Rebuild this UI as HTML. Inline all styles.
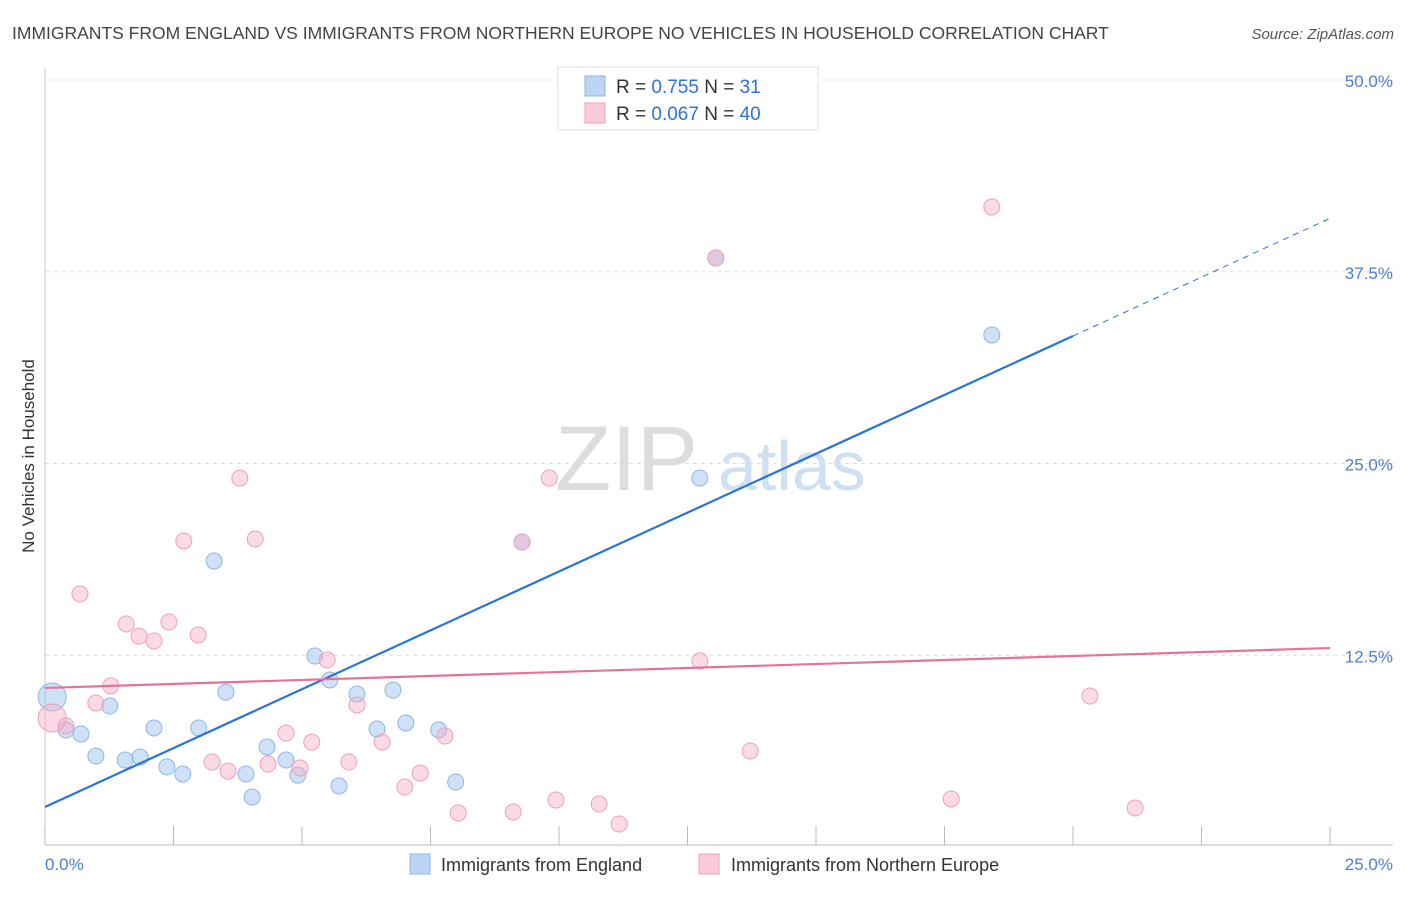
<!DOCTYPE html>
<html><head><meta charset="utf-8">
<style>
body{margin:0;background:#fff;font-family:"Liberation Sans",sans-serif;}
svg text{font-family:"Liberation Sans",sans-serif;}
</style></head>
<body>
<svg id="chart" width="1406" height="892" viewBox="0 0 1406 892" xmlns="http://www.w3.org/2000/svg">
<text x="12" y="39" font-size="17.5" fill="#444">IMMIGRANTS FROM ENGLAND VS IMMIGRANTS FROM NORTHERN EUROPE NO VEHICLES IN HOUSEHOLD CORRELATION CHART</text>
<text x="1394" y="39" font-size="15" fill="#555" font-style="italic" text-anchor="end">Source: ZipAtlas.com</text>
<g>
<text x="555" y="490" font-size="92" fill="#ddd" font-family="Liberation Serif,serif">ZIP</text>
<text x="718" y="490" font-size="70" fill="#cfe0f3">atlas</text>
</g>
<g id="grid"></g>
<g id="axes"></g>
<g id="pts"></g>
<g id="lines"></g>
<text transform="translate(34,456) rotate(-90)" font-size="17" fill="#333" text-anchor="middle">No Vehicles in Household</text>
<text x="45" y="870" font-size="17" fill="#4a7fd4">0.0%</text>
<text x="1393" y="870" font-size="17" fill="#4a7fd4" text-anchor="end">25.0%</text>
<g>
<rect x="558" y="67" width="260" height="63" fill="#fff" stroke="#ddd"/>
<rect x="585" y="76" width="20" height="20" fill="#bcd5f5" stroke="#8fb5e8"/>
<rect x="585" y="103" width="20" height="20" fill="#f9cbd9" stroke="#f0a0b8"/>
<text x="616" y="93" font-size="19" fill="#333">R = <tspan fill="#2a73d9">0.755</tspan>   N = <tspan fill="#2a73d9"> 31</tspan></text>
<text x="616" y="120" font-size="19" fill="#333">R = <tspan fill="#2a73d9">0.067</tspan>   N = <tspan fill="#2a73d9">40</tspan></text>
</g>
<g>
<rect x="410" y="854" width="20" height="20" fill="#bcd5f5" stroke="#8fb5e8"/>
<text x="441" y="871" font-size="18" fill="#333">Immigrants from England</text>
<rect x="699" y="854" width="20" height="20" fill="#f9cbd9" stroke="#f0a0b8"/>
<text x="731" y="871" font-size="18" fill="#333">Immigrants from Northern Europe</text>
</g>
</svg>
<script>
const englandX=[0.14,0.41,0.70,0.99,1.26,1.56,1.85,2.12,2.37,2.68,2.99,3.29,3.52,3.91,4.03,4.32,4.69,4.92,5.25,5.54,5.72,6.07,6.46,6.77,7.02,7.66,7.99,9.28,12.74,13.05,18.42];
const englandY=[9.78,7.63,7.37,5.93,9.19,5.67,5.87,7.76,5.22,4.76,7.76,18.64,10.10,4.76,3.26,6.52,5.67,4.69,12.45,10.89,3.98,9.97,7.69,10.23,8.08,7.63,4.24,19.88,24.05,38.40,33.38];
const northX=[0.14,0.41,0.68,0.99,1.28,1.58,1.83,2.12,2.41,2.70,2.98,3.25,3.56,3.79,4.09,4.34,4.69,4.96,5.19,5.49,6.07,5.91,6.56,7.00,7.30,7.78,8.04,9.11,9.81,9.94,9.28,10.78,11.17,12.74,13.05,13.72,17.63,18.42,20.33,21.21];
const northY=[8.41,7.89,16.49,9.39,10.50,14.54,13.75,13.43,14.67,19.95,13.82,5.54,4.95,24.05,20.08,5.41,7.43,5.15,6.84,12.19,9.26,5.54,6.84,3.91,4.82,7.24,2.22,2.28,24.05,3.06,19.88,2.80,1.50,12.13,38.40,6.26,3.13,41.72,9.84,2.54];
const yTicks=[12.5,25.0,37.5,50.0];
const englandFit=[2.61,1.535];
const northFit=[10.37,0.104];
const NS="http://www.w3.org/2000/svg";
const xs=v=>45+v*51.4;
const ys=v=>847-v*15.34;
function mk(tag,attrs,parent){const e=document.createElementNS(NS,tag);for(const k in attrs)e.setAttribute(k,attrs[k]);document.getElementById(parent).appendChild(e);return e;}
yTicks.forEach(t=>{
 const g=mk('line',{x1:45,x2:1393,y1:ys(t),y2:ys(t),stroke:'#ddd','stroke-dasharray':'4,4'},'grid');
 
 
 const l=mk('text',{x:1393,y:ys(t)+7,'font-size':17,fill:'#4a7fd4','text-anchor':'end'},'grid');
 l.textContent=t.toFixed(1)+'%';
 
 
});
const ax=mk('line',{x1:45,x2:1393,y1:845,y2:845,stroke:'#bbb'},'axes');


const ay=mk('line',{x1:45,x2:45,y1:68,y2:845,stroke:'#ccc'},'axes');


for(let i=0;i<=10;i++){
 const t=mk('line',{x1:xs(i*2.5),x2:xs(i*2.5),y1:826,y2:845,stroke:'#bbb'},'axes');
 
 
}
function pts(X,Y,fill,stroke,name){
 X.forEach((x,i)=>{
  const c=mk('circle',{cx:xs(x),cy:ys(Y[i]),r:i===0?14:8,fill:fill,stroke:stroke,'stroke-width':1},'pts');
  
  
 });
}
pts(englandX,englandY,'rgba(160,196,240,0.5)','#8fb5e8','england-point');
pts(northX,northY,'rgba(245,175,198,0.45)','#f0a0b8','northern-europe-point');
const b1=mk('line',{x1:xs(0),y1:ys(englandFit[0]),x2:xs(20),y2:ys(englandFit[0]+englandFit[1]*20),stroke:'#2a73d9','stroke-width':2.2},'lines');


const b2=mk('line',{x1:xs(20),y1:ys(englandFit[0]+englandFit[1]*20),x2:xs(25),y2:ys(englandFit[0]+englandFit[1]*25),stroke:'#2a73d9','stroke-width':1,'stroke-dasharray':'6,5'},'lines');


const p1=mk('line',{x1:xs(0),y1:ys(northFit[0]),x2:xs(25),y2:ys(northFit[0]+northFit[1]*25),stroke:'#e8719a','stroke-width':2.2},'lines');


</script>
</body></html>
